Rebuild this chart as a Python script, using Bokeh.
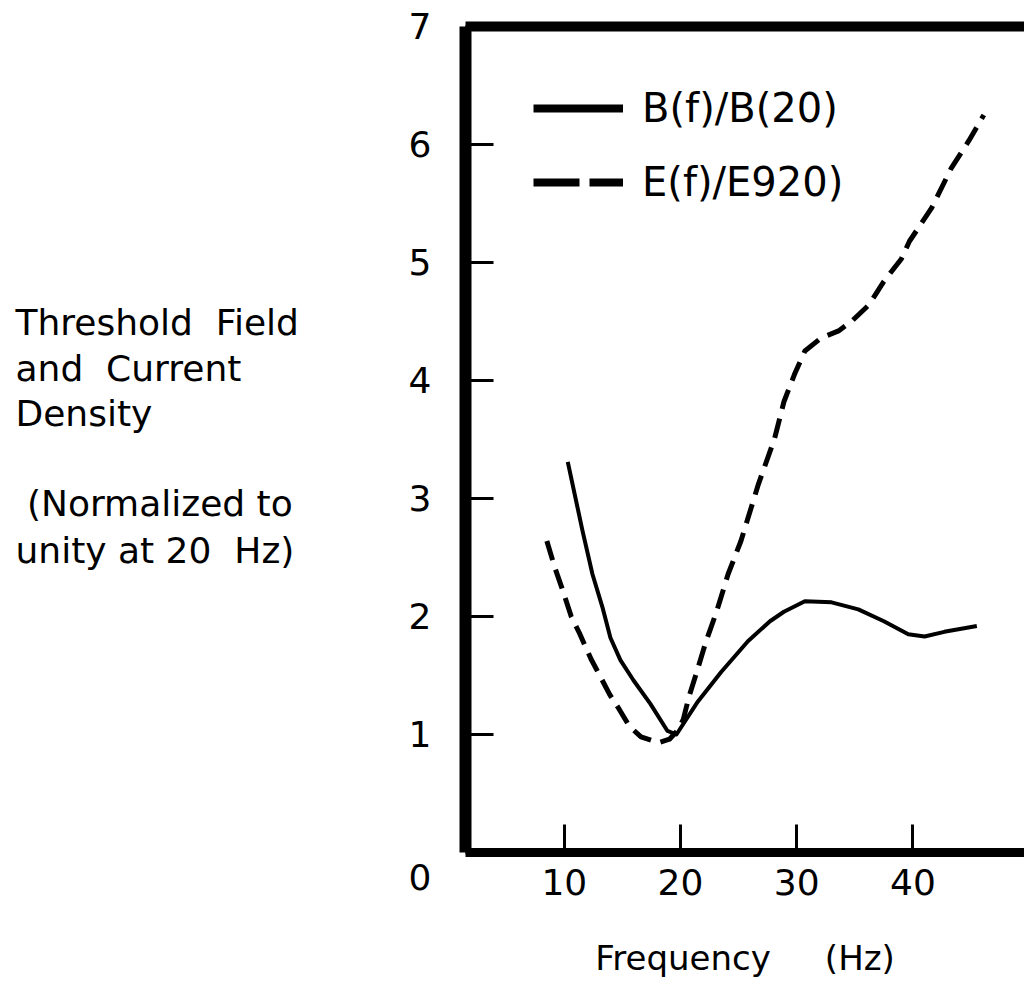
from bokeh.plotting import figure
from bokeh.models import (ColumnDataSource, Range1d, LinearAxis, FixedTicker,
                          Legend, LegendItem)
from bokeh.layouts import row
from bokeh.core.properties import value
from bokeh.embed import file_html
from bokeh.resources import INLINE

# ---- data ----
freq_B = [10.3, 11.56, 12.42, 13.28, 13.97, 14.83, 15.95, 17.41, 18.88, 19.65,
          21.5, 23.5, 25.8, 27.7, 28.9, 30.7, 33.0, 35.3, 37.5, 39.6, 41.0,
          42.7, 45.5]
ratio_B = [3.31, 2.73, 2.36, 2.08, 1.82, 1.63, 1.46, 1.26, 1.03, 1.00,
           1.28, 1.53, 1.79, 1.96, 2.04, 2.13, 2.12, 2.06, 1.96, 1.85, 1.83,
           1.87, 1.92]

freq_E = [8.5, 9.2, 9.8, 10.6, 11.3, 12.3, 13.0, 13.9, 14.75, 15.6, 16.6, 18.1,
          19.05, 19.8, 20.25, 20.7, 21.4, 22.2, 23.1, 24.1, 25.2, 26.7, 28.1,
          28.9, 29.8, 30.7, 32.1, 33.6, 34.7, 36.2, 37.5, 39.0, 39.7, 41.6,
          43.3, 44.8, 46.1]
ratio_E = [2.64, 2.41, 2.24, 2.00, 1.86, 1.64, 1.51, 1.34, 1.21, 1.07, 0.98, 0.93,
           0.96, 1.04, 1.13, 1.31, 1.53, 1.79, 2.04, 2.36, 2.64, 3.12, 3.51,
           3.82, 4.05, 4.25, 4.36, 4.42, 4.50, 4.64, 4.84, 5.03, 5.18, 5.46,
           5.80, 6.03, 6.25]

x_ticks = [10, 20, 30, 40]
y_ticks = [0, 1, 2, 3, 4, 5, 6, 7]
legend_labels = ["B(f)/B(20)", "E(f)/E920)"]
NB = "\u00a0"
y_title_lines = ["Threshold" + NB * 2 + "Field", "and" + NB * 2 + "Current",
                 "Density", NB + "(Normalized" + NB + "to",
                 "unity" + NB + "at" + NB + "20" + NB * 2 + "Hz)"]
x_title = "Frequency" + NB * 5 + "(Hz)"

FONT = "DejaVu Sans"
H = 987
TOP, BOTTOM = 26, 135          # borders -> frame spans pixel rows 26..852

# ---------------- left text panel ----------------
LW = 395
t = figure(width=LW, height=H, output_backend="svg", toolbar_location=None,
           x_range=Range1d(0, LW), y_range=Range1d(H - BOTTOM, TOP),
           min_border_left=0, min_border_right=0,
           min_border_top=TOP, min_border_bottom=BOTTOM)
t.axis.visible = False
t.grid.visible = False
t.outline_line_color = None
title_src = ColumnDataSource(dict(
    x=[15, 15, 15, 15, 15],
    y=[322, 368, 413, 503, 550],
    text=y_title_lines))
t.text("x", "y", text="text", source=title_src, text_font=value(FONT),
       text_font_size="36px", text_color="black", text_baseline="alphabetic",
       text_align="left")

# ---------------- main plot ----------------
p = figure(width=1024 - LW, height=H, output_backend="svg", toolbar_location=None,
           x_range=Range1d(1.5, 49.6), y_range=Range1d(0, 7),
           min_border_left=70, min_border_right=0, min_border_top=TOP,
           min_border_bottom=BOTTOM)
p.outline_line_color = None
p.grid.visible = False
p.extra_y_ranges = {"hidden": Range1d(100, 101)}

for ax, ticks in ((p.xaxis[0], x_ticks), (p.yaxis[0], y_ticks)):
    ax.ticker = FixedTicker(ticks=ticks)
    ax.major_tick_out = 0
    ax.major_tick_in = 28
    ax.major_tick_line_width = 3
    ax.major_tick_line_color = "black"
    ax.minor_tick_line_color = None
    ax.axis_line_color = "black"
    ax.major_label_text_font = FONT
    ax.major_label_text_font_size = "36px"
    ax.major_label_text_color = "black"
p.xaxis[0].axis_line_width = 9
p.yaxis[0].axis_line_width = 12
p.xaxis[0].major_label_standoff = 16
p.yaxis[0].major_label_standoff = 34
p.yaxis[0].major_label_overrides = {0: "\n0"}

p.xaxis[0].axis_label = x_title
p.xaxis[0].axis_label_text_font = FONT
p.xaxis[0].axis_label_text_font_size = "34px"
p.xaxis[0].axis_label_text_font_style = "normal"
p.xaxis[0].axis_label_text_color = "black"
p.xaxis[0].axis_label_standoff = 40

top = LinearAxis(axis_line_width=10, axis_line_color="black",
                 major_tick_line_color=None, minor_tick_line_color=None,
                 major_label_text_font_size="0px", ticker=FixedTicker(ticks=[]))
p.add_layout(top, "above")

src_B = ColumnDataSource(dict(x=freq_B, y=ratio_B))
src_E = ColumnDataSource(dict(x=freq_E, y=ratio_E))
p.line("x", "y", source=src_B, line_color="black", line_width=4,
       line_join="round")
p.line("x", "y", source=src_E, line_color="black", line_width=5,
       line_dash="20 10", line_join="round")

# legend-only renderers: same data on a range that is out of view,
# so only their legend glyphs show
leg_B = p.line("x", "y", source=src_B, y_range_name="hidden",
               line_color="black", line_width=8)
leg_E = p.line("x", "y", source=src_E, y_range_name="hidden",
               line_color="black", line_width=8, line_dash="46 10")
legend = Legend(items=[LegendItem(label=legend_labels[0], renderers=[leg_B]),
                       LegendItem(label=legend_labels[1], renderers=[leg_E])],
                location=(68, 647), border_line_color=None,
                background_fill_alpha=0, padding=0, margin=0,
                glyph_width=90, glyph_height=44, label_height=44, spacing=28,
                label_standoff=19, label_text_font=FONT,
                label_text_font_size="40px", label_text_color="black")
p.add_layout(legend, "center")

layout = row(t, p, spacing=0)
open("out.html", "w").write(file_html(layout, INLINE))
